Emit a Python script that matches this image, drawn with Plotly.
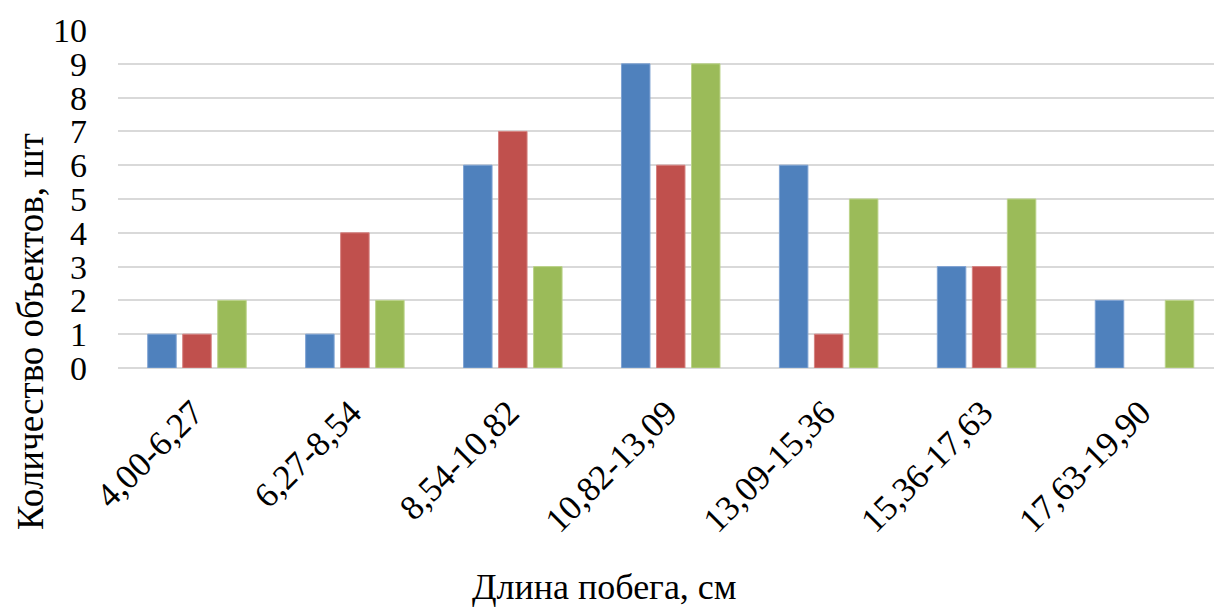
import plotly.graph_objects as go

# Shoot-length classes, cm
categories = ["4,00-6,27", "6,27-8,54", "8,54-10,82", "10,82-13,09",
              "13,09-15,36", "15,36-17,63", "17,63-19,90"]

# Number of objects per class for each of the three series
series_1 = [1, 1, 6, 9, 6, 3, 2]
series_2 = [1, 4, 7, 6, 1, 3, 0]
series_3 = [2, 2, 3, 9, 5, 5, 2]

y_ticks = list(range(0, 11))

FONT = "Liberation Serif, Times New Roman, serif"
W, H = 1214, 609
L, R, T, B = 118, 0, 30, 241
PW, PH = W - L - R, H - T - B

fig = go.Figure()
styles = [
    (series_1, "#4F81BD", "#7FA3D3"),
    (series_2, "#C0504D", "#D68280"),
    (series_3, "#9BBB59", "#BBD38A"),
]
for vals, fill, edge in styles:
    fig.add_trace(go.Bar(
        x=categories, y=vals,
        marker=dict(color=fill,
                    line=dict(color=edge, width=[1 if v else 0 for v in vals])),
        showlegend=False,
    ))

fig.update_layout(
    width=W, height=H,
    margin=dict(l=L, r=R, t=T, b=B, pad=0),
    paper_bgcolor="white", plot_bgcolor="white",
    barmode="group", bargap=0.335, bargroupgap=0.186,
    font=dict(family=FONT, size=35, color="black"),
    xaxis=dict(
        range=[-0.5, 6.44],
        tickangle=-45,
        tickfont=dict(family=FONT, size=35),
        ticklabelstandoff=16,
        ticklabelshift=-4,
        showgrid=False, showline=False, ticks="",
        zeroline=False,
    ),
    yaxis=dict(
        range=[0, 10],
        tickvals=y_ticks,
        tickfont=dict(family=FONT, size=34),
        ticklabelstandoff=30,
        showgrid=True, gridcolor="#D9D9D9", gridwidth=1.6,
        zeroline=True, zerolinecolor="#D9D9D9", zerolinewidth=1.6,
        showline=False, ticks="",
    ),
    annotations=[
        dict(text="Длина побега, см", xref="paper", yref="paper",
             x=(604 - L) / PW, y=(H - B - 587) / PH,
             xanchor="center", yanchor="middle", showarrow=False,
             font=dict(family=FONT, size=36)),
        dict(text="Количество объектов, шт", xref="paper", yref="paper",
             x=(30 - L) / PW, y=(H - B - 332) / PH, textangle=-90,
             xanchor="center", yanchor="middle", showarrow=False,
             font=dict(family=FONT, size=37)),
    ],
)

fig.write_html("out.html")
